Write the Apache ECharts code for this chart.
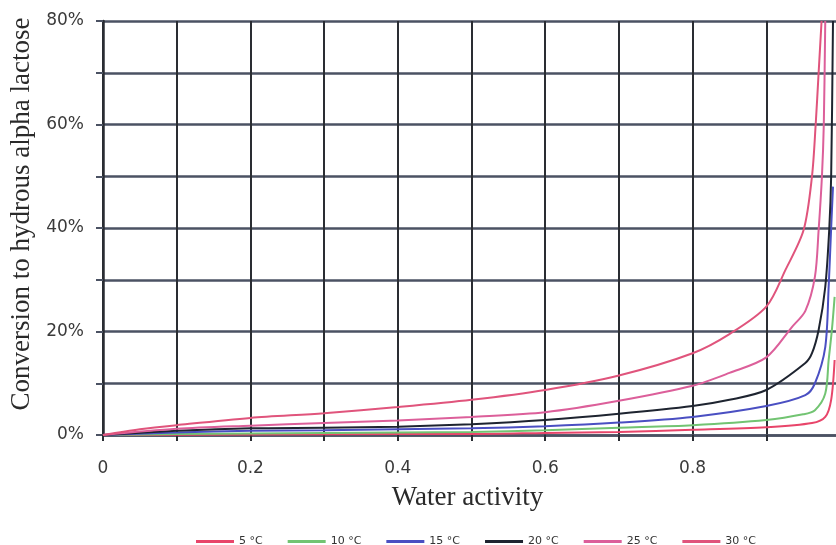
<!DOCTYPE html>
<html>
<head>
<meta charset="utf-8">
<script src="https://cdn.jsdelivr.net/npm/echarts@6/dist/echarts.min.js"></script>
<style>html,body{margin:0;padding:0;background:#fff;}#c{width:836px;height:545px;}</style>
</head>
<body>
<div id="c"></div>
<script>
const seriesNames = ['5 °C', '10 °C', '15 °C', '20 °C', '25 °C', '30 °C'];
const seriesColors = ['#e8456a', '#72c472', '#4a4fc2', '#1e2430', '#dc5f9a', '#e0547c'];
const yTickLabels = ['0%', '20%', '40%', '60%', '80%'];
const xTickLabels = ['0', '0.2', '0.4', '0.6', '0.8', '1'];

const data5 = [[0,0],[0.2,0.1],[0.4,0.2],[0.5,0.2],[0.6,0.4],[0.7,0.6],[0.8,1],[0.9,1.5],[0.962,2.3],[0.98,3.5],[0.988,6.8],[0.9927,14.5]];
const data10 = [[0,0],[0.1,0.2],[0.2,0.3],[0.3,0.4],[0.4,0.5],[0.5,0.6],[0.6,0.9],[0.7,1.4],[0.8,1.9],[0.9,2.9],[0.95,4],[0.966,4.8],[0.98,8],[0.9846,14.5],[0.989,20.3],[0.9927,26.7]];
const data15 = [[0,0],[0.1,0.5],[0.2,0.8],[0.3,0.9],[0.4,1.1],[0.5,1.3],[0.6,1.7],[0.7,2.4],[0.8,3.5],[0.9,5.6],[0.953,7.7],[0.966,10],[0.98,17],[0.9846,28.6],[0.988,40],[0.9905,48]];
const data20 = [[0,0],[0.1,0.8],[0.2,1.3],[0.3,1.4],[0.4,1.6],[0.5,2.1],[0.6,2.9],[0.7,4.1],[0.8,5.6],[0.85,6.8],[0.9,8.7],[0.953,13.9],[0.962,15.8],[0.971,20.3],[0.98,28.6],[0.9855,40],[0.988,50],[0.9905,80]];
const data25 = [[0,0],[0.1,1.2],[0.2,1.8],[0.3,2.3],[0.4,2.8],[0.5,3.5],[0.6,4.4],[0.7,6.6],[0.8,9.5],[0.85,12],[0.9,15],[0.935,20.9],[0.953,24],[0.966,30.6],[0.971,39.6],[0.9755,50],[0.978,60],[0.98,80]];
const data30 = [[0,0],[0.05,1.1],[0.1,1.9],[0.2,3.3],[0.3,4.2],[0.4,5.4],[0.5,6.8],[0.6,8.7],[0.7,11.5],[0.8,15.8],[0.85,19.5],[0.9,24.8],[0.926,31.9],[0.9506,39.6],[0.962,50],[0.967,60],[0.971,70],[0.975,80]];
const allData = [data5, data10, data15, data20, data25, data30];

const chart = echarts.init(document.getElementById('c'));
chart.setOption({
  animation: false,
  backgroundColor: '#fff',
  grid: { left: 103, top: 21, width: 737, height: 414, outerBoundsMode: 'none', containLabel: false },
  legend: {
    left: 191, top: 531,
    icon: 'rect', itemWidth: 38, itemHeight: 3, itemGap: 25,
    textStyle: { fontFamily: 'DejaVu Sans', fontSize: 11, color: '#333' },
    data: seriesNames
  },
  xAxis: {
    type: 'value', min: 0, max: 1, interval: 0.1,
    name: 'Water activity', nameLocation: 'middle', nameGap: 49,
    nameTextStyle: { fontFamily: 'Liberation Serif', fontSize: 27, color: '#2a2a2a', padding: [0, 8, 0, 0] },
    axisLine: { show: true, lineStyle: { color: '#4b5263', width: 2.5 } },
    axisTick: { show: true, length: 6, lineStyle: { color: '#2a2d33', width: 2 } },
    axisLabel: {
      margin: 25, fontFamily: 'DejaVu Sans', fontSize: 17, color: '#3a3a3a',
      formatter: function (v) { const k = Math.round(v * 10); return k % 2 === 0 ? xTickLabels[k / 2] : ''; }
    },
    splitLine: { show: true, lineStyle: { color: '#2a2d33', width: 2 } }
  },
  yAxis: {
    type: 'value', min: 0, max: 80, interval: 10,
    name: 'Conversion to hydrous alpha lactose', nameLocation: 'middle', nameGap: 61,
    nameTextStyle: { fontFamily: 'Liberation Serif', fontSize: 27, color: '#2a2a2a', padding: [0, 0, 0, 28] },
    axisLine: { show: true, lineStyle: { color: '#2a2d33', width: 2.5 } },
    axisTick: { show: true, length: 7, lineStyle: { color: '#4b5263', width: 2 } },
    axisLabel: {
      margin: 19, fontFamily: 'DejaVu Sans', fontSize: 17, color: '#3a3a3a',
      formatter: function (v) { return v % 20 === 0 ? yTickLabels[v / 20] : ''; }
    },
    splitLine: { show: true, lineStyle: { color: '#4b5263', width: 2.5 } }
  },
  series: allData.map(function (d, i) {
    return {
      name: seriesNames[i], type: 'line', data: d,
      smooth: 0.3, symbol: 'none', clip: true,
      lineStyle: { color: seriesColors[i], width: 2 },
      itemStyle: { color: seriesColors[i] }
    };
  })
});
</script>
</body>
</html>
